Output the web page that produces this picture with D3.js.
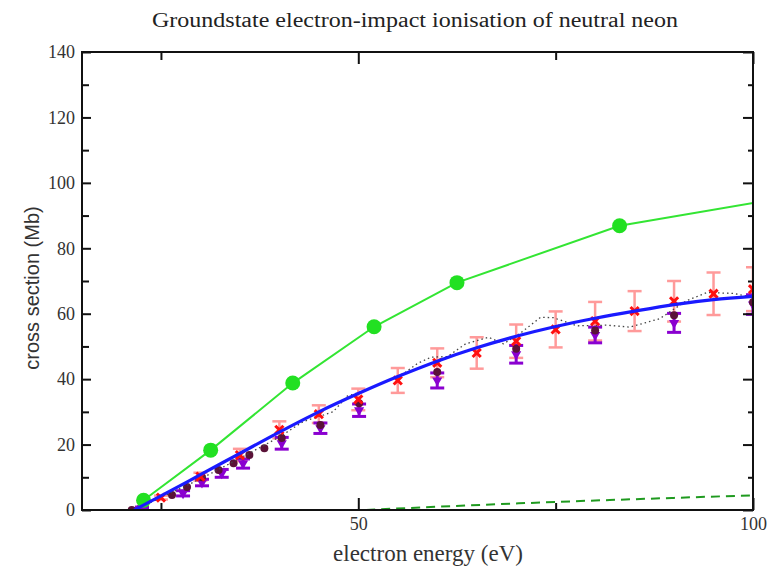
<!DOCTYPE html>
<html>
<head>
<meta charset="utf-8">
<script src="https://cdn.jsdelivr.net/npm/d3@7"></script>
<style>
  body { margin: 0; background: #fff; }
  svg { font-family: "Liberation Serif", "DejaVu Serif", serif; }
  .axis text { font-size: 18px; fill: #333; font-family: "Liberation Serif", serif; }
  .axis line { stroke: #111; stroke-width: 2px; }
  .axis path { display: none; }
</style>
</head>
<body>
<svg id="chart" width="770" height="569"></svg>
<script>

// Data (energy in eV, cross section in Mb)
var greenE = [22.8, 31.3, 41.7, 52.0, 62.5, 83.1, 110];
var greenY = [3.0, 18.3, 38.8, 56.0, 69.5, 86.9, 98.0];

var blueE = [21.6, 25, 30, 35, 40, 45, 50, 55, 60, 65, 70, 75, 80, 85, 90, 95, 100];
var blueY = [0, 4.3, 10.8, 17.3, 23.8, 30.0, 35.6, 40.8, 45.5, 49.6, 53.1, 56.1, 58.6, 60.8, 62.8, 64.3, 65.3];

var dotE = [21.6, 25, 30, 35, 40, 43, 46.8, 48.6, 51.2, 53.3, 55.8, 57.5, 59.2, 61.3, 63.6, 66.5, 68.4, 70.5, 73.1, 74.7, 77.7, 81.5, 84.4, 88.2, 91.6, 94.2, 97.5, 100];
var dotY = [0, 3.8, 9.5, 15.8, 22.3, 27.0, 30.0, 34.8, 36.8, 39.1, 41.8, 44.8, 46.7, 46.9, 50.8, 52.8, 50.8, 54.0, 58.9, 58.8, 56.3, 56.5, 55.9, 58.5, 64.0, 66.5, 66.2, 65.0];

var redE = [25, 30, 35, 40, 45, 50, 55, 60, 65, 70, 75, 80, 85, 90, 95, 100];
var redY = [3.8, 10.2, 16.8, 24.5, 29.3, 33.8, 39.6, 45.0, 48.0, 51.6, 55.2, 57.7, 60.8, 63.8, 66.1, 67.5];
var redErr = [0.6, 1.2, 1.9, 2.6, 2.7, 3.3, 3.8, 4.4, 4.8, 5.1, 5.5, 5.9, 6.1, 6.2, 6.5, 6.7];

var purpleE = [22.6, 27.8, 30.2, 32.7, 35.4, 40.3, 45.2, 50.1, 60, 70, 80, 90, 100];
var purpleY = [0.6, 5.1, 8.4, 11.2, 14.2, 20.4, 25.0, 30.5, 39.6, 47.6, 53.5, 57.2, 62.8];
var purpleErr = [0.3, 0.8, 1.0, 1.2, 1.4, 1.8, 1.6, 1.9, 2.3, 2.7, 2.4, 2.9, 3.0];

var darkE = [21.3, 26.4, 28.3, 30.2, 32.3, 34.2, 36.2, 38.1, 40.3, 45.2, 50.1, 60, 70, 80, 90, 100];
var darkY = [0, 4.6, 7.0, 10.0, 12.2, 14.3, 16.8, 18.9, 22.0, 26.0, 32.6, 42.2, 49.3, 54.9, 59.5, 63.5];

var dashE = [51, 60, 70, 80, 90, 100];
var dashY = [0, 1.0, 2.0, 2.9, 3.7, 4.5];

var xMajor = [50, 100], xMinor = [25, 75];
var yMajor = [0, 20, 40, 60, 80, 100, 120, 140], yMinor = [10, 30, 50, 70, 90, 110, 130];

var svg = d3.select("#chart"),
    pLeft = 82, pRight = 753, pTop = 52, pBottom = 510;

var x = d3.scaleLinear().domain([15, 100]).range([pLeft, pRight]);
var y = d3.scaleLinear().domain([0, 140]).range([pBottom, pTop]);

function pts(xs, ys) { return xs.map(function(e, i) { return [e, ys[i]]; }); }

svg.append("defs").append("clipPath")
    .attr("id", "clip")
  .append("rect")
    .attr("x", pLeft).attr("y", pTop)
    .attr("width", pRight - pLeft).attr("height", pBottom - pTop);

var plot = svg.append("g").attr("clip-path", "url(#clip)");

var line = d3.line()
    .x(function(d) { return x(d[0]); })
    .y(function(d) { return y(d[1]); });

// dashed dark green
plot.append("path")
    .datum(pts(dashE, dashY))
    .attr("d", line.curve(d3.curveMonotoneX))
    .attr("fill", "none").attr("stroke", "#1f9a1f").attr("stroke-width", 2)
    .attr("stroke-dasharray", "9,6");

// pink error bars
var rg = plot.append("g").attr("stroke", "#ff9a9a").attr("stroke-width", 2.5);
redE.forEach(function(e, i) {
  var cx = x(e), y0 = y(redY[i] - redErr[i]), y1 = y(redY[i] + redErr[i]);
  rg.append("line").attr("x1", cx).attr("x2", cx).attr("y1", y0).attr("y2", y1);
  rg.append("line").attr("x1", cx - 7).attr("x2", cx + 7).attr("y1", y0).attr("y2", y0);
  rg.append("line").attr("x1", cx - 7).attr("x2", cx + 7).attr("y1", y1).attr("y2", y1);
});

// purple error bars
var pg = plot.append("g").attr("stroke", "#8a00d0").attr("stroke-width", 3);
purpleE.forEach(function(e, i) {
  var cx = x(e), y0 = y(purpleY[i] - purpleErr[i]), y1 = y(purpleY[i] + purpleErr[i]);
  pg.append("line").attr("x1", cx).attr("x2", cx).attr("y1", y0).attr("y2", y1);
  pg.append("line").attr("x1", cx - 7).attr("x2", cx + 7).attr("y1", y0).attr("y2", y0);
  pg.append("line").attr("x1", cx - 7).attr("x2", cx + 7).attr("y1", y1).attr("y2", y1);
});
plot.append("g").selectAll("path")
    .data(pts(purpleE, purpleY))
  .enter().append("path")
    .attr("transform", function(d) { return "translate(" + x(d[0]) + "," + y(d[1]) + ") rotate(180)"; })
    .attr("d", d3.symbol(d3.symbolTriangle, 45))
    .attr("fill", "#8a00d0");

// dark dots
plot.append("g").selectAll("circle")
    .data(pts(darkE, darkY))
  .enter().append("circle")
    .attr("cx", function(d) { return x(d[0]); })
    .attr("cy", function(d) { return y(d[1]); })
    .attr("r", 4)
    .attr("fill", "#5a1238");

// dotted line
plot.append("path")
    .datum(pts(dotE, dotY))
    .attr("d", line.curve(d3.curveLinear))
    .attr("fill", "none").attr("stroke", "#444").attr("stroke-width", 1.3)
    .attr("stroke-dasharray", "1.5,3");

// red markers
plot.append("g").selectAll("path")
    .data(pts(redE, redY))
  .enter().append("path")
    .attr("transform", function(d) { return "translate(" + x(d[0]) + "," + y(d[1]) + ")"; })
    .attr("d", d3.symbol(d3.symbolTimes, 45))
    .attr("fill", "none").attr("stroke", "#ff1010").attr("stroke-width", 3);

// green line with circles
plot.append("path")
    .datum(pts(greenE, greenY))
    .attr("d", line.curve(d3.curveLinear))
    .attr("fill", "none").attr("stroke", "#33e533").attr("stroke-width", 2);
plot.append("g").selectAll("circle")
    .data(pts(greenE, greenY))
  .enter().append("circle")
    .attr("cx", function(d) { return x(d[0]); })
    .attr("cy", function(d) { return y(d[1]); })
    .attr("r", 7.5)
    .attr("fill", "#22e022");

// blue theory curve
plot.append("path")
    .datum(pts(blueE, blueY))
    .attr("d", line.curve(d3.curveMonotoneX))
    .attr("fill", "none").attr("stroke", "#1a1aff").attr("stroke-width", 3.2);

// axes, ticks point inward
svg.append("g").attr("class", "axis")
    .attr("transform", "translate(" + pLeft + ",0)")
    .call(d3.axisLeft(y).tickValues(yMajor).tickSize(-9).tickPadding(7).tickFormat(d3.format("d")));
svg.append("g").attr("class", "axis")
    .attr("transform", "translate(" + pLeft + ",0)")
    .call(d3.axisLeft(y).tickValues(yMinor).tickSize(-7).tickFormat(""));
svg.append("g").attr("class", "axis")
    .attr("transform", "translate(" + pRight + ",0)")
    .call(d3.axisRight(y).tickValues(yMajor).tickSize(-10).tickFormat(""));
svg.append("g").attr("class", "axis")
    .attr("transform", "translate(" + pRight + ",0)")
    .call(d3.axisRight(y).tickValues(yMinor).tickSize(-5).tickFormat(""));
svg.append("g").attr("class", "axis")
    .attr("transform", "translate(0," + pBottom + ")")
    .call(d3.axisBottom(x).tickValues(xMajor).tickSize(-12).tickPadding(7).tickFormat(d3.format("d")));
svg.append("g").attr("class", "axis")
    .attr("transform", "translate(0," + pBottom + ")")
    .call(d3.axisBottom(x).tickValues(xMinor).tickSize(-7).tickFormat(""));
svg.append("g").attr("class", "axis")
    .attr("transform", "translate(0," + pTop + ")")
    .call(d3.axisTop(x).tickValues(xMajor).tickSize(-12).tickFormat(""));
svg.append("g").attr("class", "axis")
    .attr("transform", "translate(0," + pTop + ")")
    .call(d3.axisTop(x).tickValues(xMinor).tickSize(-8).tickFormat(""));

// frame
svg.append("rect")
    .attr("x", pLeft).attr("y", pTop)
    .attr("width", pRight - pLeft).attr("height", pBottom - pTop)
    .attr("fill", "none").attr("stroke", "#111").attr("stroke-width", 2);

// titles
svg.append("text")
    .attr("x", 415).attr("y", 27)
    .attr("text-anchor", "middle")
    .attr("font-size", 20).attr("fill", "#222")
    .attr("textLength", 526).attr("lengthAdjust", "spacingAndGlyphs")
    .text("Groundstate electron-impact ionisation of neutral neon");

svg.append("text")
    .attr("x", 428).attr("y", 561)
    .attr("text-anchor", "middle")
    .attr("font-size", 23).attr("fill", "#333")
    .text("electron energy (eV)");

svg.append("text")
    .attr("transform", "translate(39,288) rotate(-90)")
    .attr("text-anchor", "middle")
    .attr("font-family", "Liberation Sans, Arial, sans-serif")
    .attr("font-size", 20).attr("fill", "#333")
    .text("cross section (Mb)");

</script>
</body>
</html>
